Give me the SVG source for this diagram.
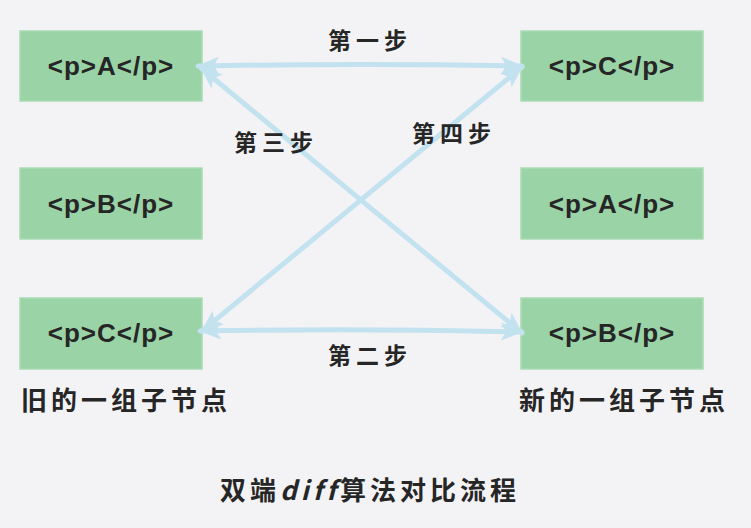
<svg xmlns="http://www.w3.org/2000/svg" width="751" height="528" viewBox="0 0 751 528">
<style>
.box{fill:#9ad4a6;stroke:#a9dcb4;stroke-width:1.5}
.bt{font-family:"Liberation Sans","Noto Sans CJK SC",sans-serif;font-weight:bold;font-size:26px;fill:#262626;text-anchor:middle;letter-spacing:1px}
.lb{font-family:"Noto Sans CJK SC",sans-serif;font-weight:bold;fill:#262626;text-anchor:middle}
.ln{fill:none;stroke:#c2e2ef;stroke-width:5;stroke-linecap:round}
</style>
<defs>
<marker id="ah" viewBox="0 0 22 18" refX="21" refY="9" markerWidth="22" markerHeight="18" markerUnits="userSpaceOnUse" orient="auto-start-reverse">
<path d="M0,0 L22,9 L0,18 L5,9 Z" fill="#c2e2ef"/>
</marker>
</defs>
<rect width="751" height="528" fill="#f3f3f5"/>
<g id="old-A"><rect class="box" x="20" y="31" width="182" height="70"/><text class="bt" x="111" y="75">&lt;p&gt;A&lt;/p&gt;</text></g>
<g id="old-B"><rect class="box" x="20" y="168" width="182" height="71"/><text class="bt" x="111" y="213">&lt;p&gt;B&lt;/p&gt;</text></g>
<g id="old-C"><rect class="box" x="20" y="298" width="182" height="71"/><text class="bt" x="111" y="342">&lt;p&gt;C&lt;/p&gt;</text></g>
<g id="new-C"><rect class="box" x="521" y="31" width="182" height="70"/><text class="bt" x="612" y="75">&lt;p&gt;C&lt;/p&gt;</text></g>
<g id="new-A"><rect class="box" x="521" y="168" width="182" height="71"/><text class="bt" x="612" y="213">&lt;p&gt;A&lt;/p&gt;</text></g>
<g id="new-B"><rect class="box" x="521" y="298" width="182" height="71"/><text class="bt" x="612" y="342">&lt;p&gt;B&lt;/p&gt;</text></g>
<g id="connectors">
<path class="ln" d="M198,66 Q360,63 522,66" marker-start="url(#ah)" marker-end="url(#ah)"/>
<path class="ln" d="M200,331 Q360,328 522,332" marker-start="url(#ah)" marker-end="url(#ah)"/>
<path class="ln" d="M201,68 L522,333" marker-start="url(#ah)" marker-end="url(#ah)"/>
<path class="ln" d="M202,331 L522,67" marker-start="url(#ah)" marker-end="url(#ah)"/>
</g>
<g id="labels">
<text class="lb" x="370" y="49" font-size="23" letter-spacing="5">第一步</text>
<text class="lb" x="276" y="151" font-size="23" letter-spacing="5">第三步</text>
<text class="lb" x="454" y="142" font-size="23" letter-spacing="5">第四步</text>
<text class="lb" x="370" y="364" font-size="23" letter-spacing="5">第二步</text>
<text class="lb" x="126" y="410" font-size="26" letter-spacing="4">旧的一组子节点</text>
<text class="lb" x="624" y="410" font-size="26" letter-spacing="4">新的一组子节点</text>
<text class="lb" x="370" y="500" font-size="26" letter-spacing="4">双端<tspan font-style="italic">diff</tspan>算法对比流程</text>
</g>
</svg>
